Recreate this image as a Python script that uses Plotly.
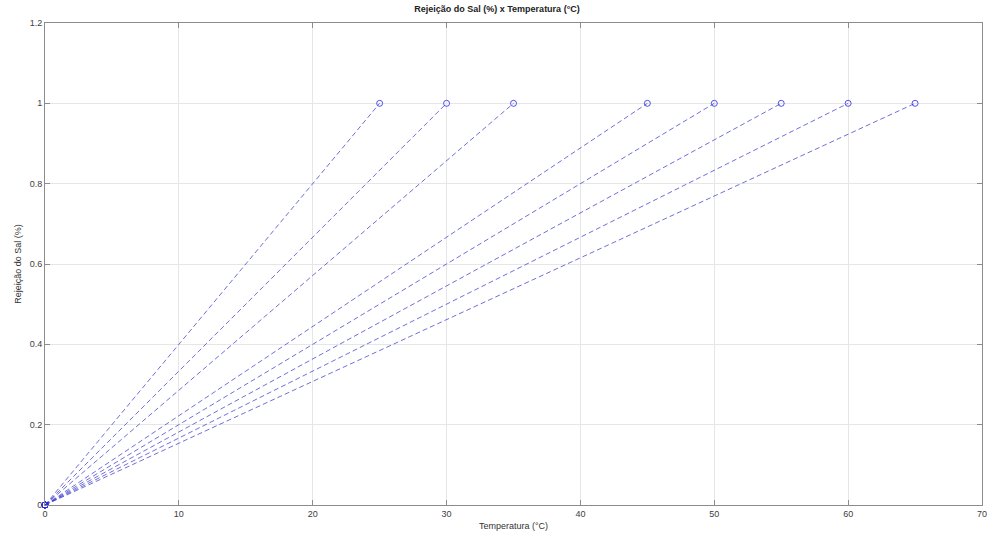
import plotly.graph_objects as go

temperaturas = [25, 30, 35, 45, 50, 55, 60, 65]
rejeicao_inicio = [0, 0, 0, 0, 0, 0, 0, 0]
rejeicao_fim = [1, 1, 1, 1, 1, 1, 1, 1]
x_ticks = [0, 10, 20, 30, 40, 50, 60, 70]
y_ticks = [0, 0.2, 0.4, 0.6, 0.8, 1, 1.2]
y_tick_labels = ["0", "0.2", "0.4", "0.6", "0.8", "1", "1.2"]

fig = go.Figure()
for t, y0, y1 in zip(temperaturas, rejeicao_inicio, rejeicao_fim):
    fig.add_trace(go.Scatter(
        x=[0, t], y=[y0, y1], mode="lines+markers", cliponaxis=False,
        line=dict(color="rgba(50,50,200,0.7)", width=1, dash="5px,3px"),
        marker=dict(symbol="circle-open", size=6, color="rgba(40,40,230,0.8)", line=dict(width=1)),
        showlegend=False,
    ))

axis_common = dict(
    showgrid=True, gridcolor="#e6e6e6", gridwidth=1,
    showline=True, linecolor="#8c8c8c", linewidth=1, mirror="ticks",
    ticks="inside", ticklen=5, tickcolor="#8c8c8c",
    zeroline=False, tickfont=dict(size=9, color="#404040"),
)

fig.update_layout(
    width=994, height=542,
    margin=dict(l=45, r=7, t=23, b=37),
    paper_bgcolor="white", plot_bgcolor="white",
    font=dict(family="Liberation Sans, Arial, sans-serif", size=9, color="#333333"),
    title=dict(text="<b>Rejeição do Sal (%) x Temperatura (°C)</b>", x=0.5, xanchor="center",
               y=1 - 6/542, yanchor="top", font=dict(size=9, color="#222222")),
    xaxis=dict(range=[0, 70], tickvals=x_ticks, title=dict(text="Temperatura (°C)", standoff=4,
               font=dict(size=9)), **axis_common),
    yaxis=dict(range=[0, 1.2], tickvals=y_ticks, ticktext=y_tick_labels,
               title=dict(text="Rejeição do Sal (%)", standoff=6, font=dict(size=9)), **axis_common),
)

fig.write_html("out.html")
